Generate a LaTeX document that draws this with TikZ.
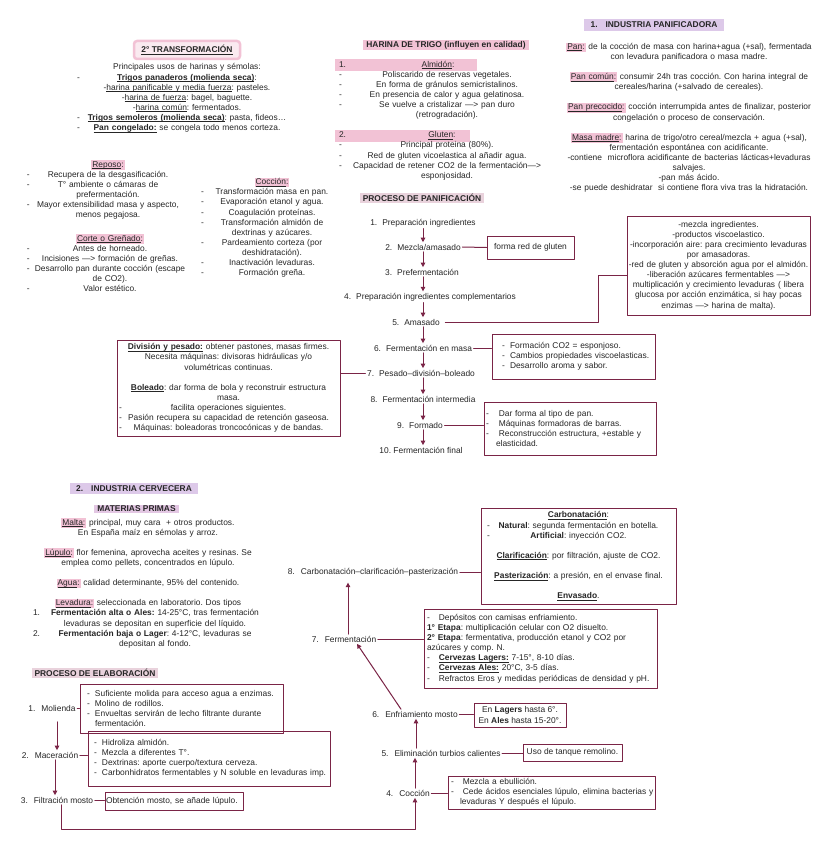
\documentclass[tikz,border=0pt]{standalone}
\usepackage{fontspec}
\setmainfont{Liberation Sans}
\usetikzlibrary{arrows.meta}
\definecolor{vino}{RGB}{122,36,70}
\definecolor{tinta}{RGB}{38,38,38}
\definecolor{rosa}{RGB}{242,194,213}
\definecolor{lila}{RGB}{221,201,233}
\definecolor{rosagris}{RGB}{233,210,220}
\setlength{\parindent}{0pt}
\frenchspacing
\newcommand{\fs}{\fontsize{8.4}{10.1}\selectfont}
\newcommand{\dl}[1]{\leavevmode\hbox to\hsize{\rlap{-}\hfil#1\hfil}}
\newcommand{\numl}[2]{\leavevmode\hbox to\hsize{\rlap{#1}\hspace{14pt}\hfil#2\hfil}}
\newcommand{\itm}[1][8pt]{\makebox[#1][l]{-}}
\newcommand{\ul}[1]{\leavevmode\setbox0=\hbox{#1}\rlap{\rule[-1.5pt]{\wd0}{0.5pt}}\box0}
\newcommand{\bu}[1]{\textbf{\ul{#1}}}
\newcommand{\hlt}[2][:]{{\fboxsep=1pt\colorbox{rosa}{\ul{#2}#1}}}
\begin{document}
\begin{tikzpicture}[x=1pt, y=-1pt, font=\fs, text=tinta, line join=round, line cap=round,
  >={Triangle[length=4.5pt,width=4.5pt]},
  blk/.style={inner sep=0pt, align=center, text width=#1},
  paso/.style={inner sep=1.5pt},
  caja/.style={draw=vino, line width=1pt, inner ysep=2pt},
  flecha/.style={->, draw=vino, line width=1pt},
  linea/.style={draw=vino, line width=1pt},
  marca/.style={fill=#1, inner xsep=3pt, inner ysep=1.5pt, font=\fs\bfseries}]
\useasboundingbox (0,0) rectangle (835,848);
\fill[white] (0,0) rectangle (835,848);

% 2a transformacion
\node[draw=rosa, fill=rosa!35, line width=2.5pt, rounded corners=3pt, minimum width=106pt, minimum height=18pt, inner sep=0pt] (tit2) at (187,50) {\bu{2° TRANSFORMACIÓN}};
\node[blk=220pt] (usos) at (187,98) {Principales usos de harinas y sémolas:\\
  \dl{\bu{Trigos panaderos (molienda seca)}:}\\
  -\ul{harina panificable y media fuerza}: pasteles.\\
  -\ul{harina de fuerza}: bagel, baguette.\\
  -\ul{harina común}: fermentados.\\
  \dl{\bu{Trigos semoleros (molienda seca)}: pasta, fideos…}\\
  \dl{\bu{Pan congelado:} se congela todo menos corteza.}};
\node[blk=162pt] (reposo) at (108,190) {\hlt{Reposo}\\
  \dl{Recupera de la desgasificación.}\\
  \dl{T° ambiente o cámaras de}\\
  prefermentación.\\
  \dl{Mayor extensibilidad masa y aspecto,}\\
  menos pegajosa.};
\node[blk=166pt] (corte) at (110,263) {\hlt{Corte o Greñado}\\
  \dl{Antes de horneado.}\\
  \dl{Incisiones —> formación de greñas.}\\
  \dl{Desarrollo pan durante cocción (escape}\\
  de CO2).\\
  \dl{Valor estético.}};
\node[blk=142pt] (coccion) at (272,227.5) {\hlt{Cocción}\\
  \dl{Transformación masa en pan.}\\
  \dl{Evaporación etanol y agua.}\\
  \dl{Coagulación proteínas.}\\
  \dl{Transformación almidón de}\\
  dextrinas y azúcares.\\
  \dl{Pardeamiento corteza (por}\\
  deshidratación).\\
  \dl{Inactivación levaduras.}\\
  \dl{Formación greña.}};

% harina de trigo
\node[marca=rosa] (harina) at (446,45) {HARINA DE TRIGO (influyen en calidad)};
\fill[rosa] (335,59) rectangle (477,71);
\fill[rosa] (335,130) rectangle (470,142);
\node[blk=216pt] (trigo) at (447,120.5) {\leavevmode\hbox to\hsize{\rlap{1.}\hfil\ul{Almidón}:\hspace{18pt}\hfil}\\
  \dl{Poliscarido de reservas vegetales.}\\
  \dl{En forma de gránulos semicristalinos.}\\
  \dl{En presencia de calor y agua gelatinosa.}\\
  \dl{Se vuelve a cristalizar —> pan duro}\\
  (retrogradación).\\[10.1pt]
  \leavevmode\hbox to\hsize{\rlap{2.}\hfil\ul{Gluten}:\hspace{10pt}\hfil}\\
  \dl{Principal proteina (80\%).}\\
  \dl{Red de gluten vicoelastica al añadir agua.}\\
  \dl{Capacidad de retener CO2 de la fermentación—>}\\
  esponjosidad.};

% industria panificadora
\node[marca=lila, minimum width=140pt, minimum height=12pt] (indpan) at (654,25) {1.\hspace{8pt}INDUSTRIA PANIFICADORA};
\node[blk=300pt] (panif) at (689,117.5) {\hlt{Pan} de la cocción de masa con harina+agua (+sal), fermentada\\
  con levadura panificadora o masa madre.\\[10.1pt]
  \hlt{Pan común} consumir 24h tras cocción. Con harina integral de\\
  cereales/harina (+salvado de cereales).\\[10.1pt]
  \hlt{Pan precocido} cocción interrumpida antes de finalizar, posterior\\
  congelación o proceso de conservación.\\[10.1pt]
  \hlt{Masa madre} harina de trigo/otro cereal/mezcla + agua (+sal),\\
  fermentación espontánea con acidificante.\\
  -contiene\ \ microflora acidificante de bacterias lácticas+levaduras\\
  salvajes.\\
  -pan más ácido.\\
  -se puede deshidratar\ \ si contiene flora viva tras la hidratación.};

% proceso de panificacion
\node[marca=rosagris, minimum width=122pt] (procpan) at (422,198) {PROCESO DE PANIFICACIÓN};
\node[paso] (s1) at (423,223) {1.\hspace{5pt}Preparación ingredientes};
\node[paso] (s2) at (423,247) {2.\hspace{5pt}Mezcla/amasado};
\node[paso] (s3) at (422,272) {3.\hspace{5pt}Prefermentación};
\node[paso] (s4) at (430,297) {4.\hspace{5pt}Preparación ingredientes complementarios};
\node[paso] (s5) at (416,322) {5.\hspace{5pt}Amasado};
\node[paso] (s6) at (423,348) {6.\hspace{5pt}Fermentación en masa};
\node[paso] (s7) at (421,373) {7.\hspace{5pt}Pesado–división–boleado};
\node[paso] (s8) at (423,399) {8.\hspace{5pt}Fermentación intermedia};
\node[paso] (s9) at (420,425) {9.\hspace{5pt}Formado};
\node[paso] (s10) at (421,450) {10. Fermentación final};
\foreach \a/\b in {s1/s2,s2/s3,s3/s4,s4/s5,s5/s6,s6/s7,s7/s8,s8/s9,s9/s10}
  \draw[flecha] (\a.south -| 423,0) -- (\b.north -| 423,0);

\node[caja, minimum width=87pt, minimum height=23pt] (gluten) at (530.5,247.5) {forma red de gluten};
\node[caja, text width=183pt, align=center, minimum height=99pt, inner xsep=0pt] (amas) at (718.5,265.5) {-mezcla ingredientes.\\
  -productos viscoelastico.\\
  -incorporación aire: para crecimiento levaduras\\
  por amasadoras.\\
  -red de gluten y absorción agua por el almidón.\\
  -liberación azúcares fermentables —>\\
  multiplicación y crecimiento levaduras ( libera\\
  glucosa por acción enzimática, si hay pocas\\
  enzimas —> harina de malta).};
\node[caja, text width=163pt, inner xsep=0pt, minimum height=45pt, align=left] (fmasa) at (573.5,356.5) {\hspace*{10pt}\itm Formación CO2 = esponjoso.\\
  \hspace*{10pt}\itm Cambios propiedades viscoelasticas.\\
  \hspace*{10pt}\itm Desarrollo aroma y sabor.};
\node[caja, text width=168pt, inner xsep=2pt, minimum height=53pt, align=left] (formado) at (570,428.5) {\itm[10pt] Dar forma al tipo de pan.\\
  \itm[10pt] Máquinas formadoras de barras.\\
  \itm[10pt] Reconstrucción estructura, +estable y\\
  \hspace*{10pt}elasticidad.};
\node[caja, text width=219pt, inner xsep=2pt, minimum height=96pt, align=center] (div) at (228.5,388) {\bu{División y pesado:} obtener pastones, masas firmes.\\
  Necesita máquinas: divisoras hidráulicas y/o\\
  volumétricas continuas.\\[10.1pt]
  \bu{Boleado}: dar forma de bola y reconstruir estructura\\
  masa.\\
  \dl{facilita operaciones siguientes.}\\
  \dl{Pasión recupera su capacidad de retención gaseosa.}\\
  \dl{Máquinas: boleadoras troncocónicas y de bandas.}};
\coordinate (codo) at (598,275);
\draw[linea] (s2.east) -- (gluten.west);
\draw[linea] ([xshift=4pt]s5.east) -| (codo) -- (codo -| amas.west);
\draw[linea] (s6.east) -- (s6.east -| fmasa.west);
\draw[linea] (s7.west) -- (s7.west -| div.east);
\draw[linea] (s9.east) -- (s9.east -| formado.west);

% industria cervecera
\node[marca=lila, minimum width=128pt, minimum height=11pt] (indcer) at (134,488.5) {2.\hspace{8pt}INDUSTRIA CERVECERA};
\node[marca=lila!70!rosa, minimum width=83pt] (mat) at (136.5,509) {MATERIAS PRIMAS};
\node[blk=230pt] (mprim) at (148,583) {\hlt{Malta} principal, muy cara\ \ + otros productos.\\
  En España maíz en sémolas y arroz.\\[10.1pt]
  \hlt{Lúpulo} flor femenina, aprovecha aceites y resinas. Se\\
  emplea como pellets, concentrados en lúpulo.\\[10.1pt]
  \hlt{Agua} calidad determinante, 95\% del contenido.\\[10.1pt]
  \hlt{Levadura} seleccionada en laboratorio. Dos tipos\\
  \numl{1.}{\textbf{Fermentación alta o Ales:} 14-25°C, tras fermentación}\\
  \numl{}{levaduras se depositan en superficie del líquido.}\\
  \numl{2.}{\textbf{Fermentación baja o Lager}: 4-12°C, levaduras se}\\
  \numl{}{depositan al fondo.}};

% proceso de elaboracion
\node[marca=rosagris, minimum width=120pt] (procel) at (95,673) {PROCESO DE ELABORACIÓN};
\node[paso] (e1) at (52,708) {1.\hspace{6pt}Molienda};
\node[paso] (e2) at (50,755) {2.\hspace{6pt}Maceración};
\node[paso] (e3) at (57,800) {3.\hspace{6pt}Filtración mosto};
\node[caja, text width=189pt, inner xsep=7pt, minimum height=49pt, align=left] (mol) at (181.5,708.5) {\itm Suficiente molida para acceso agua a enzimas.\\
  \itm Molino de rodillos.\\
  \itm Envueltas servirán de lecho filtrante durante\\
  \hspace*{8pt}fermentación.};
\node[caja, text width=230pt, inner xsep=6pt, minimum height=55pt, align=left] (mac) at (209,758.5) {\itm Hidroliza almidón.\\
  \itm Mezcla a diferentes T°.\\
  \itm Dextrinas: aporte cuerpo/textura cerveza.\\
  \mbox{\itm Carbonhidratos fermentables y N soluble en levaduras imp.}};
\node[caja, text width=136pt, inner xsep=1pt, inner ysep=1pt, minimum height=18pt, align=left] (filt) at (174,801) {Obtención mosto, se añade lúpulo.};
\draw[flecha, shorten <=9pt] (e1.south -| 57,0) -- (e2.north -| 57,0);
\draw[flecha] (e2.south -| 55,0) -- (e3.north -| 55,0);
\draw[linea] (e1.east) -- (e1.east -| mol.west);
\draw[linea] (e2.east) -- (e2.east -| mac.west);
\draw[linea] (e3.east) -- (e3.east -| filt.west);

\node[paso] (c4) at (408,793) {4.\hspace{6pt}Cocción};
\node[paso] (c5) at (441,753) {5.\hspace{6pt}Eliminación turbios calientes};
\node[paso] (c6) at (415,714) {6.\hspace{6pt}Enfriamiento mosto};
\node[paso] (c7) at (344,639) {7.\hspace{6pt}Fermentación};
\node[paso] (c8) at (373,572) {8.\hspace{6pt}Carbonatación–clarificación–pasterización};
\node[caja, text width=201pt, inner xsep=3pt, inner ysep=1pt, minimum height=33pt, align=left] (coc) at (551.5,792.5) {\itm[9pt] Mezcla a ebullición.\\
  \mbox{\itm[9pt] Cede ácidos esenciales lúpulo, elimina bacterias y}\\
  \hspace*{9pt}levaduras Y después el lúpulo.};
\node[caja, inner xsep=2pt, inner ysep=1pt, minimum width=99pt, minimum height=17pt] (elim) at (572.5,752.5) {Uso de tanque remolino.};
\node[caja, inner xsep=2pt, inner ysep=1pt, minimum width=92pt, minimum height=24pt, align=center] (enf) at (520,715) {En \textbf{Lagers} hasta 6°.\\ En \textbf{Ales} hasta 15-20°.};
\node[caja, text width=227pt, inner xsep=3pt, minimum height=79pt, align=left] (ferm) at (540.5,648.5) {\itm[9pt] Depósitos con camisas enfriamiento.\\
  \textbf{1° Etapa}: multiplicación celular con O2 disuelto.\\
  \textbf{2° Etapa}: fermentativa, producción etanol y CO2 por\\
  azúcares y comp. N.\\
  \itm[9pt] \bu{Cervezas Lagers:} 7-15°, 8-10 días.\\
  \itm[9pt] \bu{Cervezas Ales:} 20°C, 3-5 días.\\
  \itm[9pt] Refractos Eros y medidas periódicas de densidad y pH.};
\node[caja, text width=183pt, inner xsep=6pt, minimum height=96pt, align=center] (carb) at (578.5,556) {\bu{Carbonatación}:\\
  \dl{\textbf{Natural}: segunda fermentación en botella.}\\
  \dl{\textbf{Artificial}: inyección CO2.}\\[10.1pt]
  \bu{Clarificación}: por filtración, ajuste de CO2.\\[10.1pt]
  \bu{Pasterización}: a presión, en el envase final.\\[10.1pt]
  \bu{Envasado}.};
\coordinate (baseL) at (61,829);
\coordinate (baseR) at (415,829);
\draw[flecha] (e3.south -| baseL) -- (baseL) -- (baseR) -- (baseR |- c4.south);
\draw[flecha] (c4.north -| 415,0) -- (c5.south -| 415,0);
\draw[flecha] (c5.north -| 416,0) -- (c6.south -| 416,0);
\draw[flecha] (c6.north -| 401,0) -- (c7.south -| 357,0);
\draw[flecha, shorten >=5pt] (c7.north -| 348,0) -- (c8.south -| 348,0);
\draw[linea] (c4.east) -- (c4.east -| coc.west);
\draw[linea] (c5.east) -- (c5.east -| elim.west);
\draw[linea] (c6.east) -- (c6.east -| enf.west);
\draw[linea] (c7.east) -- (c7.east -| ferm.west);
\draw[linea] (c8.east) -- (c8.east -| carb.west);
\end{tikzpicture}
\end{document}
